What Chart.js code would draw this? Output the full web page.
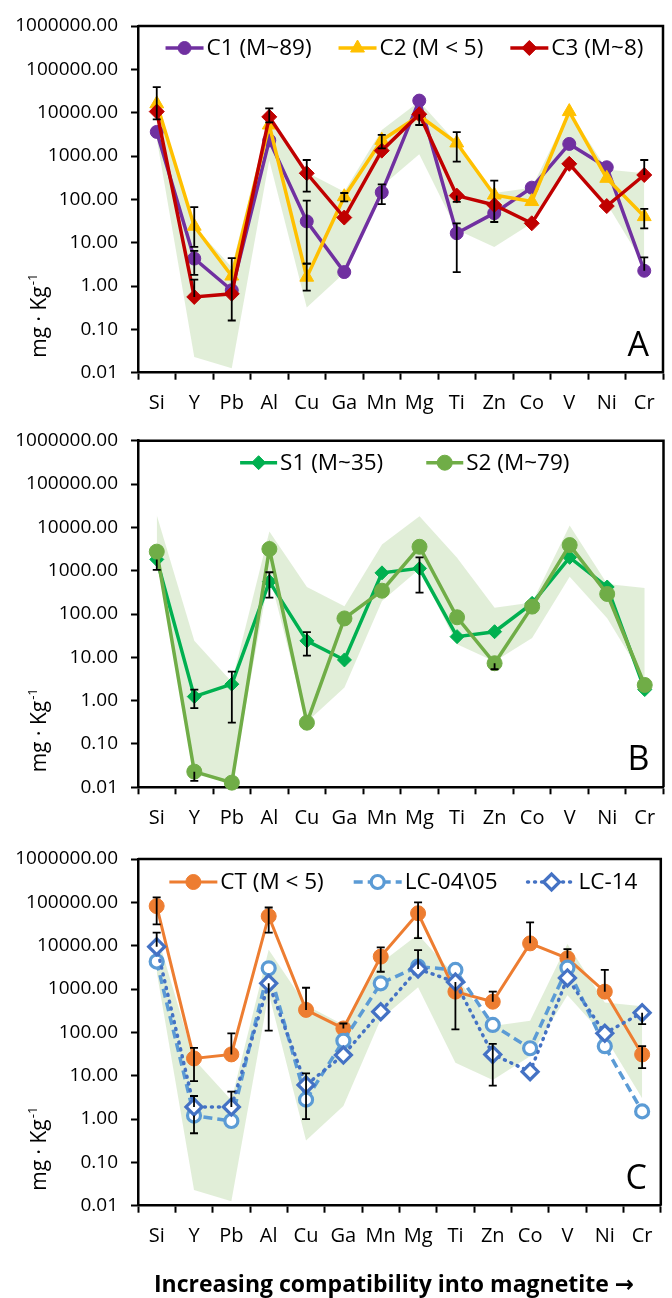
<!DOCTYPE html>
<html>
<head>
<meta charset="utf-8">
<script src="https://cdn.jsdelivr.net/npm/chart.js@4.4.1/dist/chart.umd.min.js"></script>
<style>
html,body{margin:0;padding:0;background:#fff;}
#wrap{position:relative;width:672px;height:1298px;overflow:hidden;background:#fff;}
canvas{position:absolute;left:0;}
</style>
</head>
<body>
<div id="wrap">
<canvas id="cA" width="672" height="415" style="top:0px;width:672px;height:415px"></canvas>
<canvas id="cB" width="672" height="415" style="top:415px;width:672px;height:415px"></canvas>
<canvas id="cC" width="672" height="468" style="top:830px;width:672px;height:468px"></canvas>
</div>
<script>
// ---------- data ----------
const categories = ['Si','Y','Pb','Al','Cu','Ga','Mn','Mg','Ti','Zn','Co','V','Ni','Cr'];
const yTickValues = [1000000, 100000, 10000, 1000, 100, 10, 1, 0.1, 0.01];

// reference envelope (green band)
const bandUpper = [19000, 24, 2.7, 8000, 420, 150, 4000, 18000, 2000, 140, 185, 11000, 490, 400];
const bandLower = [2500, 0.023, 0.0126, 800, 0.32, 2, 200, 1100, 20, 8, 28, 720, 80, 3];

// panel A
const c1Values = [3600, 4.3, 0.8, 2300, 31, 2.1, 145, 19000, 16.5, 48, 186, 1900, 550, 2.25];
const c1ErrLow  = [null, 1.8, null, null, 3.3, null, 78, null, 2.1, null, null, null, null, 2.25];
const c1ErrHigh = [null, 6.5, null, null, 93, null, 222, null, 28, null, null, null, null, 4.6];
const c2Values = [16000, 24, 1.7, 5200, 1.6, 115, 2300, 8500, 2000, 126, 89, 10600, 306, 40];
const c2ErrLow  = [7000, 8, null, null, 0.78, 90, 1500, null, 740, 30, null, null, null, 21.5];
const c2ErrHigh = [39000, 66, null, null, 3.3, 140, 3080, null, 3540, 270, null, null, null, 60];
const c3Values = [10600, 0.56, 0.66, 8000, 400, 38, 1330, 9200, 122, 74, 28, 660, 70, 365];
const c3ErrLow  = [null, 0.56, 0.16, 6000, 150, null, null, 5200, 87, null, null, null, null, 365];
const c3ErrHigh = [null, 1.4, 4.4, 12600, 810, null, null, 9200, 122, null, null, null, null, 810];

// panel B
const s1Values = [1820, 1.24, 2.4, 560, 24, 8.7, 890, 1130, 30, 39, 176, 2030, 420, 1.8];
const s1ErrLow  = [1040, 0.67, 0.31, 240, 11, null, null, 310, null, null, null, null, null, null];
const s1ErrHigh = [1820, 1.8, 4.7, 920, 38, null, null, 2030, null, null, null, null, null, null];
const s2Values = [2750, 0.023, 0.0128, 3160, 0.31, 79, 345, 3560, 84, 7.3, 148, 3900, 290, 2.3];
const s2ErrLow  = [null, 0.014, null, null, null, null, null, null, null, 5.3, null, null, null, null];
const s2ErrHigh = [null, 0.023, null, null, null, null, null, null, null, 7.3, null, null, null, null];

// panel C
const ctValues = [82000, 25, 31, 48000, 330, 123, 5600, 56000, 870, 510, 11300, 5100, 870, 31];
const ctErrLow  = [31000, 7.5, 31, 20000, 330, 123, 2500, 15000, null, 510, 11300, 5100, 870, 15];
const ctErrHigh = [130000, 44, 95, 76000, 1070, 160, 9100, 100000, null, 870, 34500, 8300, 2750, 48];
const lc0405Values = [4300, 1.2, 0.9, 3000, 2.8, 64, 1350, 3300, 2750, 148, 43, 3100, 48, 1.5];
const lc0405ErrLow  = [null, 0.47, null, null, 1.0, null, null, null, null, null, null, null, null, null];
const lc0405ErrHigh = [null, 1.2, null, null, 11.3, null, null, null, null, null, null, null, null, null];
const lc14Values = [9500, 1.9, 1.9, 1350, 6.1, 30, 300, 2900, 1450, 31, 12.4, 1800, 95, 285];
const lc14ErrLow  = [9500, 1.9, 1.9, 110, null, null, null, 2900, 117, 5.9, null, null, null, 155];
const lc14ErrHigh = [20000, 3.4, 4.3, 1350, null, null, null, 7900, 1450, 54, null, null, null, 285];

const xAxisTitle = 'Increasing compatibility into magnetite \u2192';

// ---------- styling ----------
const FONT = "'Open Sans', 'Noto Sans', 'DejaVu Sans', sans-serif";
Chart.defaults.font.family = FONT;
Chart.defaults.color = '#000';
Chart.defaults.animation = false;

const BAND_COLOR = 'rgba(112,173,71,0.21)';

function bandSets() {
  return [
    { label: '', isBand: true, data: bandUpper, fill: '+1', backgroundColor: BAND_COLOR,
      borderWidth: 0, borderColor: 'rgba(0,0,0,0)', pointRadius: 0, order: 10, tension: 0 },
    { label: '', isBand: true, data: bandLower, fill: false, backgroundColor: BAND_COLOR,
      borderWidth: 0, borderColor: 'rgba(0,0,0,0)', pointRadius: 0, order: 11, tension: 0 }
  ];
}

function series(label, data, lo, hi, color, style, radius, order, extra) {
  return Object.assign({
    label, data, errLow: lo, errHigh: hi,
    borderColor: color, backgroundColor: color, borderWidth: 3.5,
    pointStyle: style, pointRadius: radius, pointHoverRadius: radius,
    pointBackgroundColor: color, pointBorderColor: color, pointBorderWidth: 1,
    tension: 0, fill: false, order, clip: false
  }, extra || {});
}

// ---------- plugins ----------
const errorBarPlugin = {
  id: 'errorBars',
  afterDatasetsDraw(chart) {
    const { ctx, scales: { x, y } } = chart;
    ctx.save();
    ctx.strokeStyle = '#000';
    ctx.lineWidth = 1.8;
    chart.data.datasets.forEach(d => {
      if (!d.errLow) return;
      d.errLow.forEach((lo, i) => {
        const hi = d.errHigh[i];
        if (lo == null || hi == null) return;
        const px = x.getPixelForValue(i);
        const pv = y.getPixelForValue(d.data[i]);
        const pl = y.getPixelForValue(lo);
        const ph = y.getPixelForValue(hi);
        ctx.beginPath();
        ctx.moveTo(px, pl); ctx.lineTo(px, ph);
        if (Math.abs(pl - pv) > 3) { ctx.moveTo(px - 4, pl); ctx.lineTo(px + 4, pl); }
        if (Math.abs(ph - pv) > 3) { ctx.moveTo(px - 4, ph); ctx.lineTo(px + 4, ph); }
        ctx.stroke();
      });
    });
    ctx.restore();
  }
};

function drawMarker(ctx, d, x, y) {
  ctx.save();
  ctx.fillStyle = d.pointBackgroundColor;
  ctx.strokeStyle = d.pointBorderColor;
  ctx.lineWidth = d.pointBorderWidth;
  ctx.setLineDash([]);
  if (Chart.helpers && Chart.helpers.drawPoint) {
    Chart.helpers.drawPoint(ctx, { pointStyle: d.pointStyle, radius: d.pointRadius, rotation: 0, borderWidth: d.pointBorderWidth }, x, y);
  } else {
    ctx.beginPath(); ctx.arc(x, y, d.pointRadius, 0, Math.PI * 2); ctx.fill(); ctx.stroke();
  }
  ctx.restore();
}

const legendPlugin = {
  id: 'inlineLegend',
  afterDraw(chart, args, opts) {
    const { ctx, chartArea } = chart;
    const items = chart.data.datasets.filter(d => !d.isBand);
    ctx.save();
    ctx.font = opts.font;
    const widths = items.map(d => ctx.measureText(d.label).width);
    const L = opts.lineLength, g = opts.textGap, G = opts.itemGap;
    const total = widths.reduce((a, w) => a + L + g + w, 0) + G * (items.length - 1);
    let x = (chartArea.left + chartArea.right) / 2 - total / 2 + (opts.shift || 0);
    const y = chartArea.top + opts.offsetY;
    items.forEach((d, i) => {
      ctx.save();
      ctx.strokeStyle = d.borderColor;
      ctx.lineWidth = d.borderWidth;
      ctx.setLineDash(d.borderDash || []);
      ctx.lineCap = d.borderCapStyle || 'butt';
      ctx.beginPath(); ctx.moveTo(x, y); ctx.lineTo(x + L, y); ctx.stroke();
      ctx.restore();
      drawMarker(ctx, d, x + L / 2, y);
      ctx.fillStyle = '#000';
      ctx.textBaseline = 'middle';
      ctx.textAlign = 'left';
      ctx.font = opts.font;
      ctx.fillText(d.label, x + L + g, y + 1);
      x += L + g + widths[i] + G;
    });
    ctx.restore();
  }
};

const decoPlugin = {
  id: 'panelDeco',
  afterDraw(chart, args, opts) {
    const { ctx, chartArea: ca } = chart;
    ctx.save();
    ctx.strokeStyle = '#000';
    ctx.lineWidth = 2.5;
    ctx.beginPath();
    ctx.moveTo(ca.left, ca.top); ctx.lineTo(ca.right, ca.top); ctx.lineTo(ca.right, ca.bottom);
    ctx.stroke();
    ctx.fillStyle = '#000';
    ctx.font = '34px ' + FONT;
    ctx.textAlign = 'right';
    ctx.textBaseline = 'alphabetic';
    ctx.fillText(opts.letter, ca.right - 14, ca.bottom - 17);
    if (opts.xTitle) {
      ctx.font = 'bold 23px ' + FONT;
      ctx.textAlign = 'center';
      ctx.fillText(opts.xTitle, opts.xTitleX, ca.bottom + opts.xTitleDy);
    }
    // rotated y-axis title
    ctx.translate(46, ca.bottom - 57);
    ctx.rotate(-Math.PI / 2);
    const main = 'mg \u00b7 Kg', sup = '-1';
    ctx.font = '21px ' + FONT;
    const w1 = ctx.measureText(main).width;
    ctx.font = '13px ' + FONT;
    const w2 = ctx.measureText(sup).width;
    const start = -(w1 + w2 + 1) / 2;
    ctx.textAlign = 'left';
    ctx.font = '21px ' + FONT;
    ctx.fillText(main, start, 0);
    ctx.font = '13px ' + FONT;
    ctx.fillText(sup, start + w1 + 1, -9);
    ctx.restore();
  }
};

function makeChart(id, datasets, cfg) {
  return new Chart(document.getElementById(id), {
    type: 'line',
    data: { labels: categories, datasets },
    options: {
      responsive: false,
      animation: false,
      events: [],
      layout: { padding: { top: cfg.padTop, right: 2, left: 0, bottom: 0 } },
      scales: {
        x: {
          type: 'category',
          offset: true,
          afterFit: s => { s.height = cfg.xHeight; },
          ticks: { font: { family: FONT, size: 20 }, color: '#000', padding: 12, maxRotation: 0, autoSkip: false },
          grid: { display: true, offset: true, drawOnChartArea: false, drawTicks: true, tickLength: 7, tickWidth: 2, tickColor: '#000' },
          border: { display: true, color: '#000', width: 2.5 }
        },
        y: {
          type: 'logarithmic',
          min: 0.01,
          max: 1000000,
          afterBuildTicks: s => { s.ticks = yTickValues.map(v => ({ value: v })); },
          afterFit: s => { s.width = 138; },
          ticks: { callback: v => Number(v).toFixed(2), font: { family: FONT, size: 19 }, color: '#000', padding: 13, autoSkip: false },
          grid: { display: true, drawOnChartArea: false, drawTicks: true, tickLength: 7, tickWidth: 2, tickColor: '#000' },
          border: { display: true, color: '#000', width: 2.5 }
        }
      },
      plugins: {
        legend: { display: false },
        tooltip: { enabled: false },
        inlineLegend: cfg.legend,
        panelDeco: { letter: cfg.letter, xTitle: cfg.xTitle || null, xTitleX: 394, xTitleDy: 86 }
      }
    },
    plugins: [errorBarPlugin, legendPlugin, decoPlugin]
  });
}

// ---------- panel A ----------
makeChart('cA', [
  ...bandSets(),
  series('C1 (M~89)', c1Values, c1ErrLow, c1ErrHigh, '#7030a0', 'circle', 6.5, 3),
  series('C2 (M < 5)', c2Values, c2ErrLow, c2ErrHigh, '#ffc000', 'triangle', 8, 2),
  series('C3 (M~8)', c3Values, c3ErrLow, c3ErrHigh, '#c00000', 'rectRot', 7.5, 1)
], {
  padTop: 26, xHeight: 42.3, letter: 'A',
  legend: { font: '22.5px ' + FONT, lineLength: 38, textGap: 3, itemGap: 27, offsetY: 22, shift: 4 }
});

// ---------- panel B ----------
makeChart('cB', [
  ...bandSets(),
  series('S1 (M~35)', s1Values, s1ErrLow, s1ErrHigh, '#00b050', 'rectRot', 7, 2),
  series('S2 (M~79)', s2Values, s2ErrLow, s2ErrHigh, '#70ad47', 'circle', 7.5, 1)
], {
  padTop: 25.7, xHeight: 42.7, letter: 'B',
  legend: { font: '22.5px ' + FONT, lineLength: 37, textGap: 3, itemGap: 43, offsetY: 22, shift: 4 }
});

// ---------- panel C ----------
makeChart('cC', [
  ...bandSets(),
  series('CT (M < 5)', ctValues, ctErrLow, ctErrHigh, '#ed7d31', 'circle', 7.5, 3, { borderWidth: 3 }),
  series('LC-04\\05', lc0405Values, lc0405ErrLow, lc0405ErrHigh, '#5b9bd5', 'circle', 6.5, 2,
    { pointBackgroundColor: '#ffffff', pointBorderWidth: 3.2, borderDash: [9, 5] }),
  series('LC-14', lc14Values, lc14ErrLow, lc14ErrHigh, '#4472c4', 'rectRot', 8, 1,
    { pointBackgroundColor: '#ffffff', pointBorderWidth: 3.2, borderDash: [1, 6], borderCapStyle: 'round' })
], {
  padTop: 29, xHeight: 92.3, letter: 'C', xTitle: xAxisTitle,
  legend: { font: '22.5px ' + FONT, lineLength: 48, textGap: 3, itemGap: 30, offsetY: 23, shift: 4 }
});
</script>
</body>
</html>
